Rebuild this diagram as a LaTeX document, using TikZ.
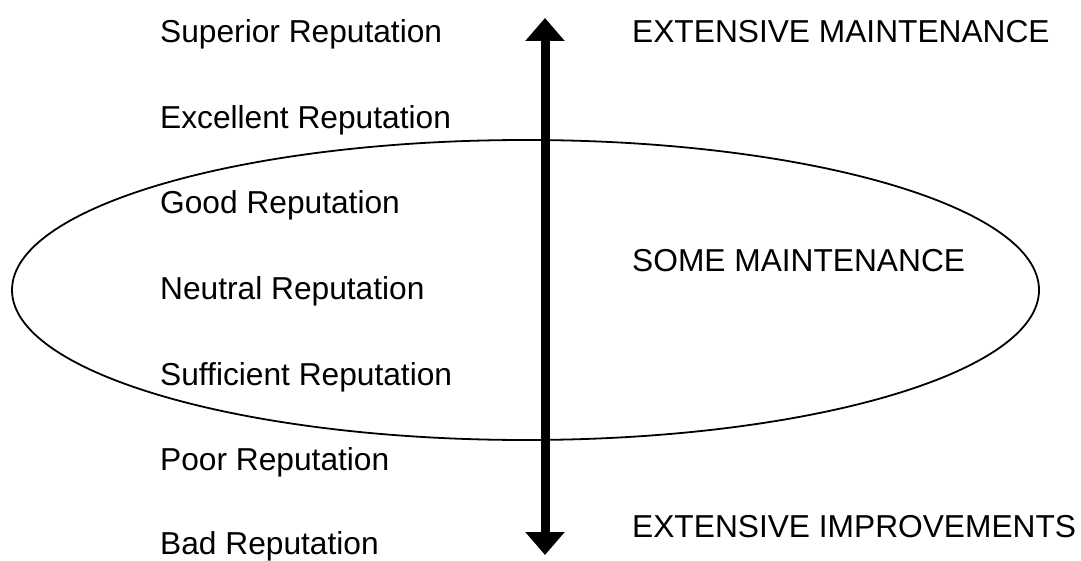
\documentclass[tikz,border=0pt]{standalone}
\usepackage{fontspec}
\setmainfont{Liberation Sans}
\usetikzlibrary{arrows.meta}
\begin{document}
\begin{tikzpicture}[x=1pt,y=1pt,
  lbl/.style={anchor=base west,inner sep=0pt,font=\fontsize{31.7}{38}\selectfont},
  axis/.style={line width=9pt,{Triangle[length=23pt,width=38pt]}-{Triangle[length=23pt,width=38pt]}}]
\useasboundingbox (0,0) rectangle (1081,560);
\draw[line width=1.8pt] (525.5,270) ellipse [x radius=513.5, y radius=150];
\coordinate (top) at (545,542);
\coordinate (bot) at (545,5);
\draw[axis] (bot) -- (top);
\node[lbl] (r1) at (160,517) {Superior Reputation};
\node[lbl] (r2) at (160,431.5) {Excellent Reputation};
\node[lbl] (r3) at (160,346) {Good Reputation};
\node[lbl] (r4) at (160,260.5) {Neutral Reputation};
\node[lbl] (r5) at (160,175) {Sufficient Reputation};
\node[lbl] (r6) at (160,89.5) {Poor Reputation};
\node[lbl] (r7) at (160,6) {Bad Reputation};
\node[lbl] (m1) at (632,517) {EXTENSIVE MAINTENANCE};
\node[lbl] (m2) at (632,288) {SOME MAINTENANCE};
\node[lbl] (m3) at (632,23) {EXTENSIVE IMPROVEMENTS};
\end{tikzpicture}
\end{document}
